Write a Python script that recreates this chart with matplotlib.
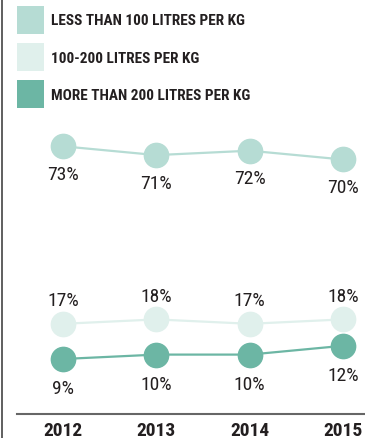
import matplotlib.pyplot as plt
from matplotlib.patches import Patch
from matplotlib.lines import Line2D

years = [2012, 2013, 2014, 2015]
less_100 = [73, 71, 72, 70]
mid_100_200 = [17, 18, 17, 18]
more_200 = [9, 10, 10, 12]

labels = ["LESS THAN 100 LITRES PER KG", "100-200 LITRES PER KG", "MORE THAN 200 LITRES PER KG"]
colors = ["#b6dcd4", "#e0f0ec", "#6cb6a4"]

font = ["Roboto Condensed", "Barlow Semi Condensed", "Fira Sans Condensed", "DejaVu Sans"]
txt = "#231f20"

fig = plt.figure(figsize=(3.65, 4.39), dpi=100)

# broken y axis: two panels sharing the same x scale
ax_top = fig.add_axes([0.0466, 0.5444, 0.9534, 0.1822])
ax_bot = fig.add_axes([0.0466, 0.0547, 0.9534, 0.2847])

def draw(ax, vals, color, offsets):
    ax.plot(years, vals, color=color, lw=1.6, marker="o", ms=17.5,
            mec=color, mfc=color, zorder=3)
    for x, v, dy in zip(years, vals, offsets):
        ax.annotate(f"{v}%", (x, v), xytext=(0, dy), textcoords="offset points",
                    ha="center", va="center", fontsize=14, color=txt, family=font)

draw(ax_top, less_100, colors[0], [-20, -20, -20, -20])
draw(ax_bot, mid_100_200, colors[1], [17, 17, 17, 17])
draw(ax_bot, more_200, colors[2], [-21, -21, -21, -21])

for ax in (ax_top, ax_bot):
    ax.set_xlim(2011.507, 2015.236)
    for s in ax.spines.values():
        s.set_visible(False)
    ax.set_yticks([])
    ax.patch.set_alpha(0)

ax_top.set_ylim(61.02, 79.2)
ax_top.set_xticks([])
ax_bot.set_ylim(-3.5, 24.91)
ax_bot.spines["bottom"].set_visible(True)
ax_bot.spines["bottom"].set_color("#666666")
ax_bot.spines["bottom"].set_linewidth(1.5)
ax_bot.set_xticks(years)
ax_bot.set_xticklabels([str(y) for y in years], fontsize=14, fontweight="bold",
                       color=txt, family=font)
ax_bot.tick_params(axis="x", length=0, pad=5)

handles = [Patch(facecolor=c, edgecolor="none") for c in colors]
leg = fig.legend(handles, labels, loc="upper left", bbox_to_anchor=(17 / 365, 1 - 7 / 439),
                 frameon=False, borderpad=0, borderaxespad=0, handlelength=1.77,
                 handleheight=2.4, labelspacing=0.63, handletextpad=0.46,
                 prop={"family": font, "weight": "bold", "size": 11})
for t in leg.get_texts():
    t.set_color(txt)

fig.add_artist(Line2D([0.005, 0.005], [0, 1], transform=fig.transFigure,
                      color="#444444", lw=1.2))

fig.savefig("out.png", dpi=100)
